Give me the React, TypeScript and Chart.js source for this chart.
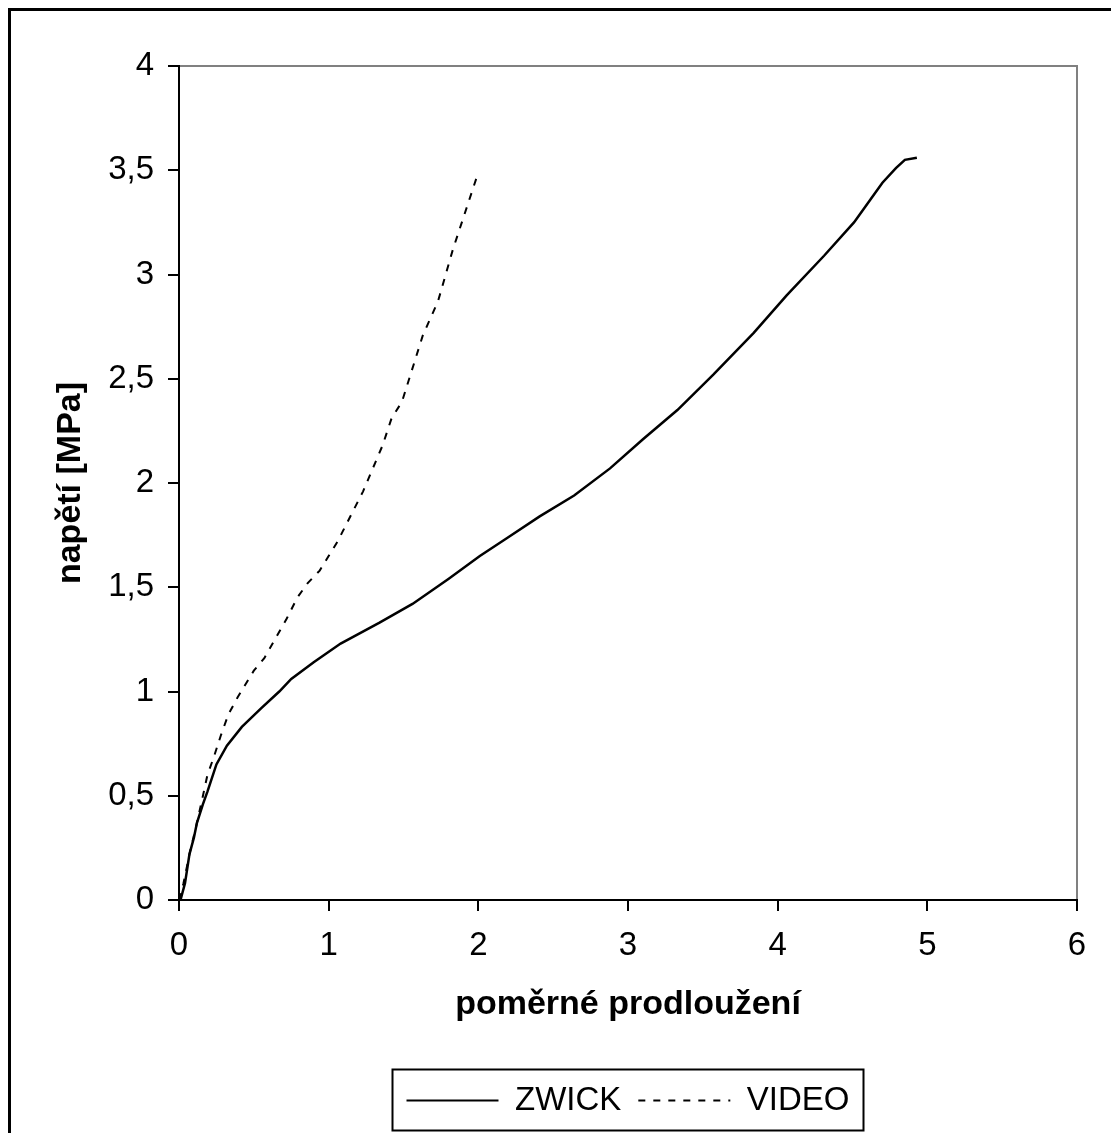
import { useEffect, useRef } from "react";
import { Chart, registerables } from "chart.js";

Chart.register(...registerables);

// Stress–strain curves: tensile machine reading vs. optical (video) extensometer
const zwickStrain = [0.01, 0.04, 0.07, 0.1, 0.12, 0.16, 0.19, 0.25, 0.32, 0.42, 0.55, 0.67, 0.75, 0.9, 1.08, 1.34, 1.56, 1.8, 2.01, 2.2, 2.41, 2.64, 2.88, 3.1, 3.33, 3.57, 3.84, 4.06, 4.31, 4.51, 4.62, 4.7, 4.79, 4.85, 4.93];
const zwickStress = [0, 0.08, 0.22, 0.3, 0.37, 0.46, 0.52, 0.65, 0.74, 0.83, 0.92, 1.0, 1.06, 1.14, 1.23, 1.33, 1.42, 1.54, 1.65, 1.74, 1.84, 1.94, 2.07, 2.21, 2.35, 2.52, 2.72, 2.9, 3.09, 3.25, 3.36, 3.44, 3.51, 3.55, 3.56];

const videoStrain = [0, 0.03, 0.07, 0.12, 0.16, 0.19, 0.23, 0.28, 0.33, 0.39, 0.5, 0.57, 0.72, 0.79, 0.86, 0.94, 1.06, 1.23, 1.36, 1.42, 1.49, 1.63, 1.73, 1.83, 2.0];
const videoStress = [0, 0.08, 0.22, 0.37, 0.5, 0.6, 0.68, 0.79, 0.89, 0.97, 1.1, 1.16, 1.35, 1.45, 1.52, 1.58, 1.72, 1.96, 2.18, 2.31, 2.39, 2.71, 2.87, 3.12, 3.49];

const seriesNames = ["ZWICK", "VIDEO"];
const xTicks = [0, 1, 2, 3, 4, 5, 6];
const yTicks = [0, 0.5, 1, 1.5, 2, 2.5, 3, 3.5, 4];
const xTitle = "poměrné prodloužení";
const yTitle = "napětí [MPa]";

const FONT = "'Liberation Sans', Arial, Helvetica, sans-serif";

const toPoints = (xs: number[], ys: number[]) => xs.map((x, i) => ({ x, y: ys[i] }));

// Gray top/right frame of the plot area and the box around the legend
const framePlugin = {
  id: "plotFrame",
  beforeDatasetsDraw(chart: any) {
    const { ctx, chartArea } = chart;
    const { left, top, right, bottom } = chartArea;
    ctx.save();
    ctx.strokeStyle = "#808080";
    ctx.lineWidth = 2;
    ctx.beginPath();
    ctx.moveTo(left + 1, top);
    ctx.lineTo(right, top);
    ctx.lineTo(right, bottom - 1);
    ctx.stroke();
    ctx.restore();
  },
  afterDraw(chart: any) {
    const boxes = chart.legend?.legendHitBoxes;
    if (!boxes || !boxes.length) return;
    const { ctx } = chart;
    let minX = Infinity, maxX = -Infinity, minY = Infinity, maxY = -Infinity;
    for (const b of boxes) {
      minX = Math.min(minX, b.left);
      maxX = Math.max(maxX, b.left + b.width);
      minY = Math.min(minY, b.top);
      maxY = Math.max(maxY, b.top + b.height);
    }
    const cy = (minY + maxY) / 2;
    ctx.save();
    ctx.strokeStyle = "#000";
    ctx.lineWidth = 2;
    ctx.strokeRect(Math.round(minX - 14) + 0.5, Math.round(cy - 32) + 0.5, Math.round(maxX - minX + 28), 61);
    ctx.restore();
  },
};

export default function App() {
  const canvasRef = useRef<HTMLCanvasElement | null>(null);

  useEffect(() => {
    // the sheet fills the window exactly; its own 8px inset replaces the body margin
    document.body.style.margin = "0";
    if (!canvasRef.current) return;
    Chart.defaults.font.family = FONT;
    Chart.defaults.color = "#000";

    const chart = new Chart(canvasRef.current, {
      type: "scatter",
      data: {
        datasets: [
          {
            label: seriesNames[0],
            data: toPoints(zwickStrain, zwickStress),
            showLine: true,
            borderColor: "#000",
            backgroundColor: "#000",
            borderWidth: 2.5,
            pointRadius: 0,
            tension: 0,
          },
          {
            label: seriesNames[1],
            data: toPoints(videoStrain, videoStress),
            showLine: true,
            borderColor: "#000",
            backgroundColor: "#000",
            borderWidth: 2,
            borderDash: [7, 8],
            pointRadius: 0,
            tension: 0,
          },
        ],
      },
      options: {
        responsive: false,
        animation: false,
        events: [],
        layout: { padding: { left: 0, top: 55, right: 34, bottom: 6 } },
        scales: {
          x: {
            type: "linear",
            min: 0,
            max: 6,
            afterFit: (s: any) => {
              s.height = 167;
            },
            afterBuildTicks: (s: any) => {
              s.ticks = xTicks.map((v) => ({ value: v }));
            },
            ticks: {
              font: { size: 33 },
              color: "#000",
              padding: 15,
              maxRotation: 0,
            },
            grid: {
              drawOnChartArea: false,
              drawTicks: true,
              tickLength: 11,
              color: "#000",
              lineWidth: 2,
            },
            border: { display: true, color: "#000", width: 2 },
            title: {
              display: true,
              text: xTitle,
              font: { size: 34, weight: "bold" },
              color: "#000",
              padding: { top: 0, bottom: 42 },
            },
          },
          y: {
            type: "linear",
            min: 0,
            max: 4,
            afterFit: (s: any) => {
              s.width = 168;
            },
            afterBuildTicks: (s: any) => {
              s.ticks = yTicks.map((v) => ({ value: v }));
            },
            ticks: {
              font: { size: 33 },
              color: "#000",
              padding: 14,
              callback: (v: any) => String(v).replace(".", ","),
            },
            grid: {
              drawOnChartArea: false,
              drawTicks: true,
              tickLength: 11,
              color: "#000",
              lineWidth: 2,
            },
            border: { display: true, color: "#000", width: 2 },
            title: {
              display: true,
              text: yTitle,
              font: { size: 34, weight: "bold" },
              color: "#000",
              padding: { top: 39, bottom: 0 },
            },
          },
        },
        plugins: {
          legend: {
            display: true,
            position: "bottom",
            fullSize: false,
            labels: {
              font: { size: 33 },
              color: "#000",
              usePointStyle: true,
              pointStyle: "line",
              pointStyleWidth: 92,
              padding: 17,
              // legend samples take the line style of each dataset
              generateLabels: (chart: any) => {
                const items = Chart.defaults.plugins.legend.labels.generateLabels(chart);
                items.forEach((item: any, i: number) => {
                  const ds = chart.data.datasets[i];
                  item.pointStyle = "line";
                  item.lineDash = ds.borderDash || [];
                  item.lineWidth = 2;
                  item.strokeStyle = ds.borderColor;
                  item.fillStyle = ds.borderColor;
                });
                return items;
              },
            },
          },
          tooltip: { enabled: false },
        },
      },
      plugins: [framePlugin],
    } as any);

    return () => chart.destroy();
  }, []);

  return (
    <div
      style={{
        width: 1111,
        height: 1133,
        boxSizing: "border-box",
        padding: "8px 0 0 8px",
        overflow: "hidden",
        background: "#fff",
      }}
    >
      <div
        style={{
          borderLeft: "3px solid #000",
          borderTop: "3px solid #000",
          width: 1100,
          height: 1122,
        }}
      >
        <canvas ref={canvasRef} width={1100} height={1122} style={{ display: "block" }} />
      </div>
    </div>
  );
}
